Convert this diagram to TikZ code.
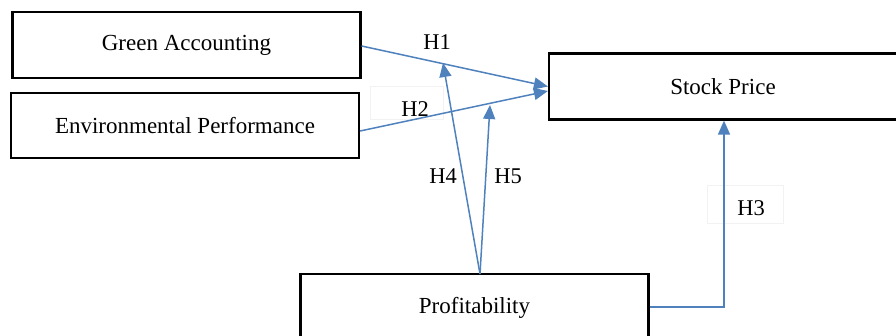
\documentclass[tikz,border=0pt]{standalone}
\usepackage{fontspec}
\setmainfont{Liberation Serif}
\usetikzlibrary{arrows.meta,calc}
\definecolor{arrowblue}{RGB}{79,129,189}
\tikzset{
  box/.style={draw=black, line width=2.2pt, minimum width=348pt, minimum height=66pt, inner sep=0pt, font=\fontsize{23}{27}\selectfont},
  hyp/.style={font=\fontsize{22.5}{26}\selectfont, inner sep=0pt},
  faintbox/.style={draw=black!5, line width=1pt},
  link/.style={draw=arrowblue, line width=1.5pt, -{Triangle[length=14pt,width=12pt]}}
}
\begin{document}
\begin{tikzpicture}[x=1pt,y=-1pt]
\useasboundingbox (0,0) rectangle (896,336);
\begin{scope}
\clip (0,0) rectangle (896,336);
\node[box] (ga) at (186.5,45) {Green Accounting};
\node[box, minimum height=65pt] (ep) at (185,125.5) {Environmental Performance};
\node[box] (sp) at (723,86.5) {Stock Price};
\node[box, minimum height=68pt] (pr) at (474.5,308) {Profitability};
\end{scope}
% faint label boxes
\node[faintbox, minimum width=73pt, minimum height=33pt] (b2) at (406.5,103.5) {};
\node[faintbox, minimum width=76pt, minimum height=38pt] (b3) at (745,205) {};
% labels
\node[hyp] (l1) at (437,42) {H1};
\node[hyp] (l2) at (415,109) {H2};
\node[hyp] (l4) at (443,176) {H4};
\node[hyp] (l5) at (508,176) {H5};
\node[hyp] (l3) at (751,208) {H3};
% connector ends
\coordinate (h4end) at (443,63);
\coordinate (h5end) at (490,105);
\coordinate (pfrom) at (480,274);
% connectors
\draw[link] ([yshift=-1pt]ga.east) -- ([yshift=0pt]sp.west);
\draw[link] ([yshift=-5.5pt]ep.east) -- ([yshift=-4.5pt]sp.west);
\draw[link] (pfrom) -- (h4end);
\draw[link] (pfrom) -- (h5end);
\draw[link] ([yshift=1pt]pr.east) -| ([xshift=1pt]sp.south);
\end{tikzpicture}
\end{document}
